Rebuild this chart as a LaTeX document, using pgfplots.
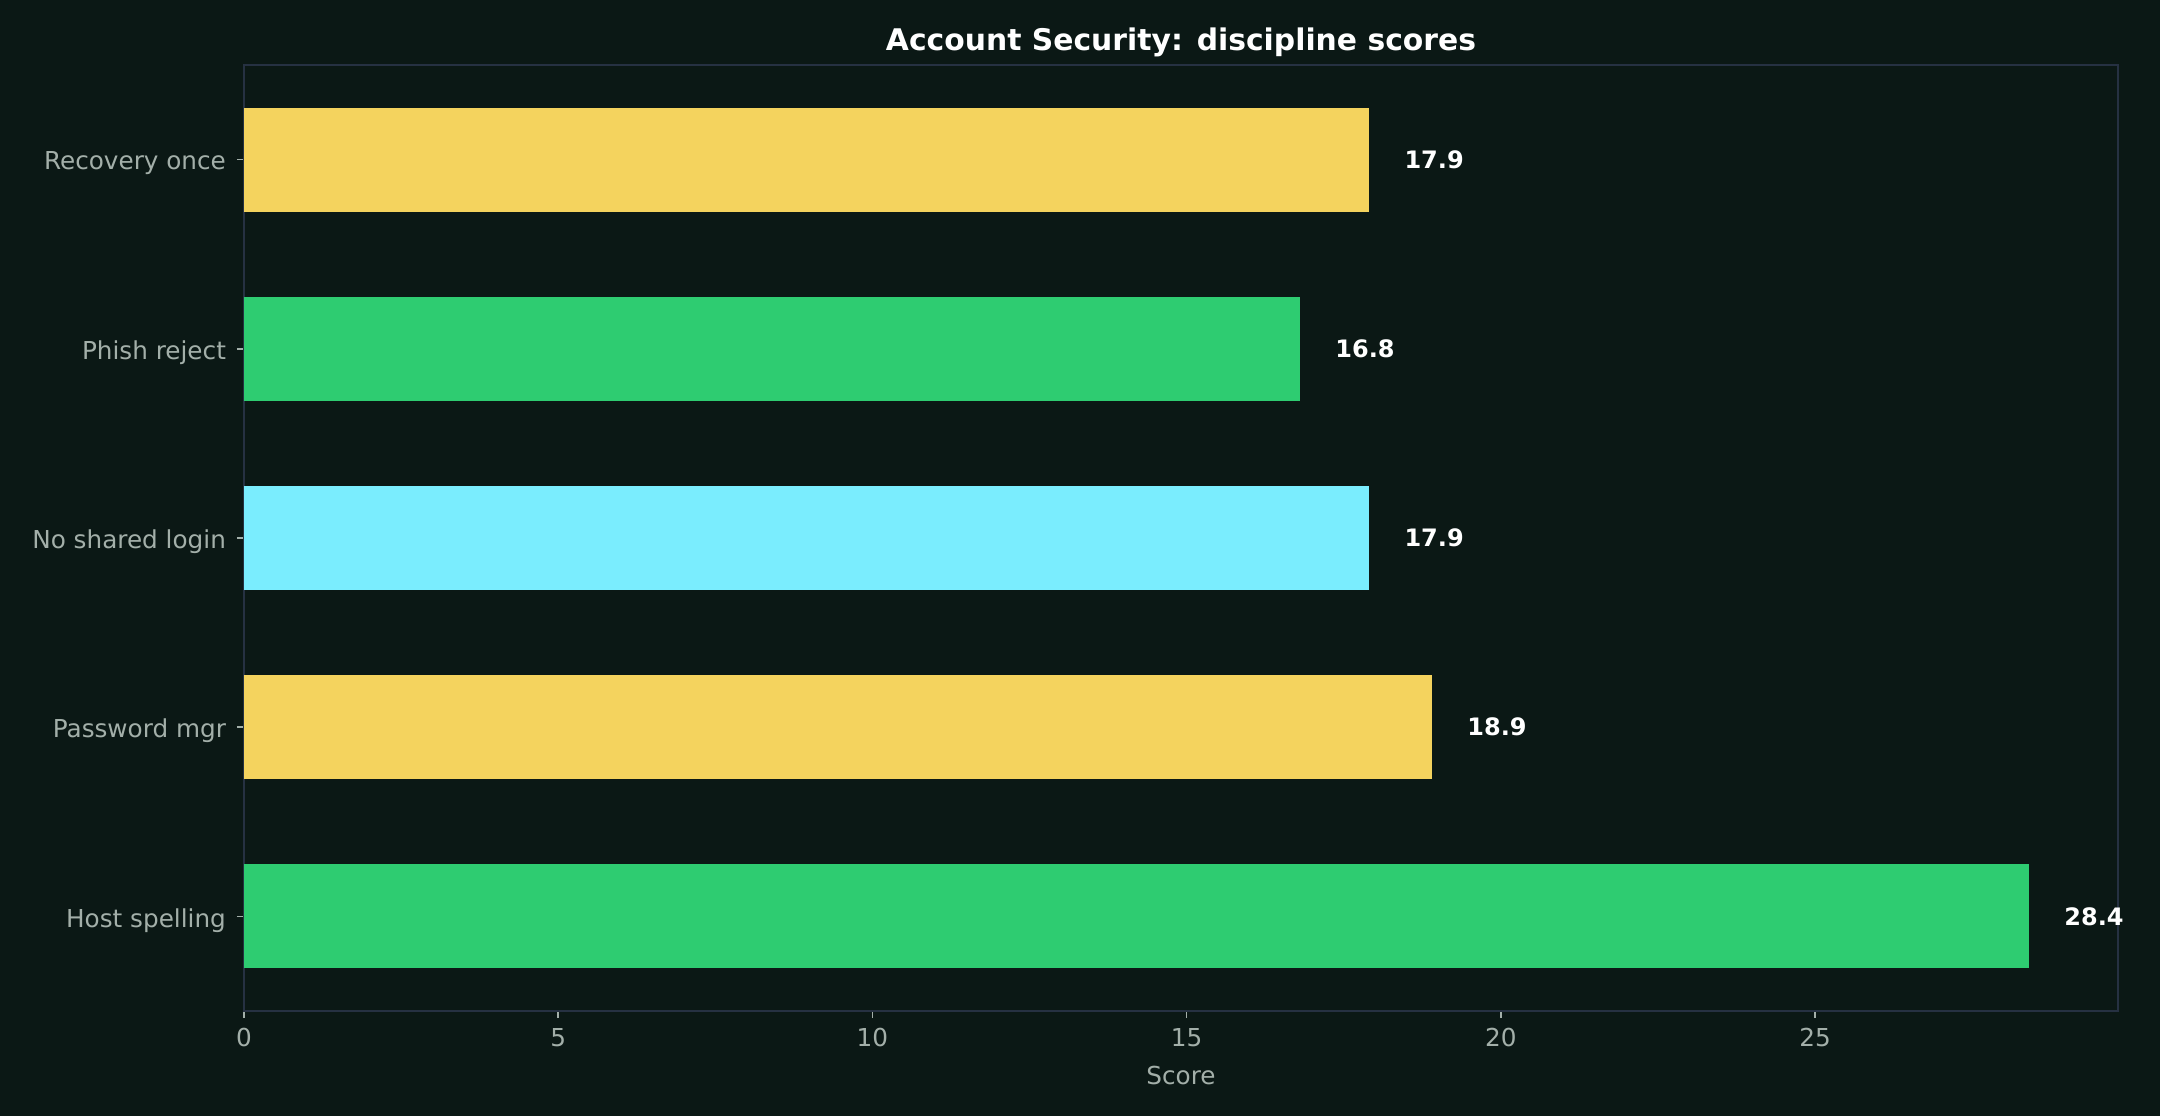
\documentclass[border=0pt]{standalone}
\usepackage{pgfplots}
\pgfplotsset{compat=1.18}
\usepackage{fontspec}
\setmainfont{DejaVu Sans}
\definecolor{bg}{HTML}{0B1815}
\definecolor{cyellow}{HTML}{F4D35E}
\definecolor{cgreen}{HTML}{2ECC71}
\definecolor{ccyan}{HTML}{7AEDFE}
\definecolor{frame}{HTML}{263142}
\definecolor{tickc}{HTML}{A3AFA9}
\begin{document}
\begin{tikzpicture}
\fill[bg] (-122pt,-52.5pt) rectangle (958pt,505.5pt);
\begin{axis}[
  at={(0,0)}, anchor=south west,
  scale only axis, width=937pt, height=473pt,
  xmin=0, xmax=29.82, ymin=-0.5, ymax=4.5,
  xtick={0,5,10,15,20,25},
  ytick={0,1,2,3,4},
  yticklabels={Host spelling, Password mgr, No shared login, Phish reject, Recovery once},
  axis line style={draw=frame, line width=1pt},
  tick style={draw=tickc, line width=0.8pt},
  tick align=outside, major tick length=3.5pt,
  xtick pos=bottom, ytick pos=left,
  tick label style={font=\fontsize{12.35}{14}\selectfont, text=tickc},
  xticklabel style={yshift=-1.5pt},
  yticklabel style={xshift=-2pt, yshift=-1.9pt},
  /pgf/number format/assume math mode=true,
  xlabel={Score},
  xlabel style={at={(axis description cs:0.5,0)}, anchor=center, yshift=-32.3pt, font=\fontsize{12.35}{14}\selectfont, text=tickc},
  title={Account Security: discipline scores},
  title style={at={(axis description cs:0.5,1)}, anchor=center, yshift=5.4pt, font=\bfseries\fontsize{14.9}{18}\selectfont, text=white},
  xbar, bar width=0.55,
  nodes near coords, point meta=explicit symbolic,
  nodes near coords style={anchor=west, inner sep=0pt, xshift=17.6pt, font=\bfseries\fontsize{12}{14}\selectfont, text=white},
]
\addplot[draw=none, fill=cgreen, bar shift=0pt] coordinates {(28.4,0) [28.4]};
\addplot[draw=none, fill=cyellow, bar shift=0pt] coordinates {(18.9,1) [18.9]};
\addplot[draw=none, fill=ccyan, bar shift=0pt] coordinates {(17.9,2) [17.9]};
\addplot[draw=none, fill=cgreen, bar shift=0pt] coordinates {(16.8,3) [16.8]};
\addplot[draw=none, fill=cyellow, bar shift=0pt] coordinates {(17.9,4) [17.9]};
\end{axis}
\end{tikzpicture}
\end{document}
